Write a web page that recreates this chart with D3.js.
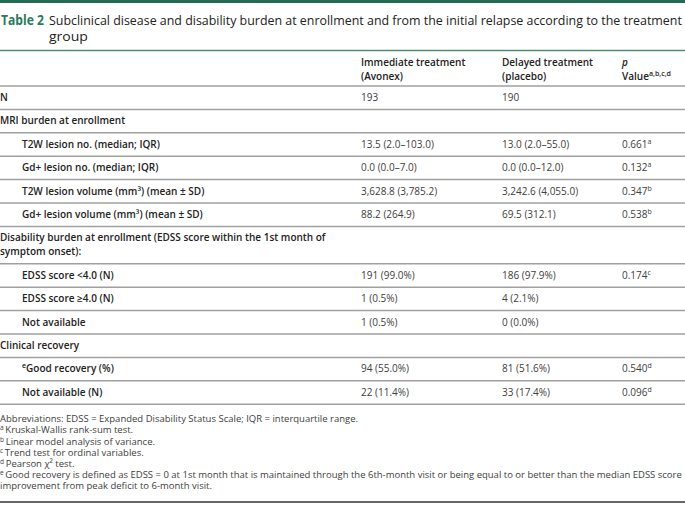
<!DOCTYPE html>
<html>
<head>
<meta charset="utf-8">
<script src="https://cdn.jsdelivr.net/npm/d3@7"></script>
<style>
  html, body { margin: 0; padding: 0; background: #fff; }
  svg { display: block; font-family: "Open Sans", sans-serif; }
</style>
</head>
<body>
<div id="container"></div>
<script>
const width = 685, height = 505;

// table content
const titleLabel = "Table 2";
const titleLines = ["Subclinical disease and disability burden at enrollment and from the initial relapse according to the treatment", "group"];
const colHeads = [["Immediate treatment", "(Avonex)"], ["Delayed treatment", "(placebo)"], ["p", "Value"]];

const rowLabels = [
  ["N"],
  ["MRI burden at enrollment"],
  ["T2W lesion no. (median; IQR)"],
  ["Gd+ lesion no. (median; IQR)"],
  ["T2W lesion volume (mm³) (mean ± SD)"],
  ["Gd+ lesion volume (mm³) (mean ± SD)"],
  ["Disability burden at enrollment (EDSS score within the 1st month of", "symptom onset):"],
  ["EDSS score <4.0 (N)"],
  ["EDSS score ≥4.0 (N)"],
  ["Not available"],
  ["Clinical recovery"],
  ["Good recovery (%)"],
  ["Not available (N)"]
];
const rowIndent = [0, 0, 1, 1, 1, 1, 0, 1, 1, 1, 0, 1, 1];
const labelPre = ["", "", "", "", "", "", "", "", "", "", "", "e", ""];
const immediateVals = ["193", "", "13.5 (2.0–103.0)", "0.0 (0.0–7.0)", "3,628.8 (3,785.2)", "88.2 (264.9)", "", "191 (99.0%)", "1 (0.5%)", "1 (0.5%)", "", "94 (55.0%)", "22 (11.4%)"];
const delayedVals = ["190", "", "13.0 (2.0–55.0)", "0.0 (0.0–12.0)", "3,242.6 (4,055.0)", "69.5 (312.1)", "", "186 (97.9%)", "4 (2.1%)", "0 (0.0%)", "", "81 (51.6%)", "33 (17.4%)"];
const pVals = ["", "", "0.661", "0.132", "0.347", "0.538", "", "0.174", "", "", "", "0.540", "0.096"];
const pSup = ["", "", "a", "a", "b", "b", "", "c", "", "", "", "d", "d"];

const footLines = [
  ["", "Abbreviations: EDSS = Expanded Disability Status Scale; IQR = interquartile range."],
  ["a", "Kruskal-Wallis rank-sum test."],
  ["b", "Linear model analysis of variance."],
  ["c", "Trend test for ordinal variables."],
  ["d", "Pearson χ² test."],
  ["e", "Good recovery is defined as EDSS = 0 at 1st month that is maintained through the 6th-month visit or being equal to or better than the median EDSS score"],
  ["", "improvement from peak deficit to 6-month visit."]
];

const green = "#236b52", ruleGray = "#a0a0a0", ink = "#222", valInk = "#404040";
const colX = [361, 502, 622];
const rowH = 23.4, lineH = 14;

const svg = d3.select("#container").append("svg")
  .attr("width", width).attr("height", height);

// top bar
svg.append("rect").attr("x", 0).attr("y", 0).attr("width", width).attr("height", 3).attr("fill", green);

// title, squeezed horizontally to look condensed
function squeeze(sel, x, yy, w) {
  const natural = sel.node().getComputedTextLength();
  sel.attr("transform", `translate(${x},${yy}) scale(${w / natural},1)`);
}
const title = svg.append("g").attr("font-size", 13.5).attr("fill", ink);
const tLabel = title.append("text").attr("font-weight", 700).attr("fill", "#2a7a5c").text(titleLabel);
squeeze(tLabel, 1, 25, 43);
titleLines.forEach((t, i) => {
  const tx = title.append("text").text(t);
  squeeze(tx, 49, 25 + i * 16, i === 0 ? 633 : 39);
});
svg.append("line").attr("x1", 0).attr("x2", width).attr("y1", 50.5).attr("y2", 50.5)
  .attr("stroke", "#4f8d75").attr("stroke-width", 1.5);

// column headers
const head = svg.append("g").attr("font-size", 10).attr("font-weight", 600).attr("fill", ink);
colHeads.forEach((h, i) => {
  h.forEach((t, j) => {
    const tx = head.append("text").attr("x", colX[i]).attr("y", 65.5 + j * 14);
    if (i === 2 && j === 0) tx.attr("font-style", "italic");
    tx.text(t);
    if (i === 2 && j === 1) tx.append("tspan").attr("font-size", 7).attr("dy", -4).text("a,b,c,d");
  });
});

// row layout
const heights = rowLabels.map(l => rowH + (l.length - 1) * lineH);
const tops = d3.cumsum([0].concat(heights)).map(v => v + 86);
const y = d3.scaleOrdinal().domain(d3.range(rowLabels.length)).range(tops);

svg.selectAll("line.rule")
  .data(tops)
  .join("line").attr("class", "rule")
  .attr("x1", 0).attr("x2", width)
  .attr("y1", d => d).attr("y2", d => d)
  .attr("stroke", ruleGray).attr("stroke-width", 1.5);

const rows = svg.selectAll("g.row")
  .data(rowLabels.map((l, i) => ({ i, l })))
  .join("g").attr("class", "row")
  .attr("transform", d => `translate(0,${y(d.i) + 15})`)
  .attr("font-size", 10);

rows.each(function (d) {
  const g = d3.select(this);
  d.l.forEach((t, j) => {
    const tx = g.append("text")
      .attr("x", rowIndent[d.i] ? 22 : 0)
      .attr("y", j * lineH)
      .attr("font-weight", 600).attr("fill", ink);
    if (labelPre[d.i]) tx.append("tspan").attr("font-size", 7).attr("dy", -4).text(labelPre[d.i]);
    tx.append("tspan").attr("dy", labelPre[d.i] ? 4 : 0).text(t);
  });
  g.append("text").attr("x", colX[0]).attr("fill", valInk).text(immediateVals[d.i]);
  g.append("text").attr("x", colX[1]).attr("fill", valInk).text(delayedVals[d.i]);
  const p = g.append("text").attr("x", colX[2]).attr("fill", valInk).text(pVals[d.i]);
  if (pSup[d.i]) p.append("tspan").attr("font-size", 7).attr("dy", -4).text(pSup[d.i]);
});

// footnotes
const footTop = tops[tops.length - 1] + 18;
const footStep = 11.2;
const foot = svg.append("g").attr("font-size", 9.5).attr("fill", valInk);
footLines.forEach((f, i) => {
  const tx = foot.append("text").attr("x", 0).attr("y", footTop + i * footStep);
  if (f[0]) tx.append("tspan").attr("font-size", 6.5).attr("dy", -3).text(f[0] + " ");
  tx.append("tspan").attr("dy", f[0] ? 3 : 0).text(f[1]);
});
svg.append("line").attr("x1", 0).attr("x2", width)
  .attr("y1", 502).attr("y2", 502)
  .attr("stroke", "#333").attr("stroke-width", 1.5);
</script>
</body>
</html>
